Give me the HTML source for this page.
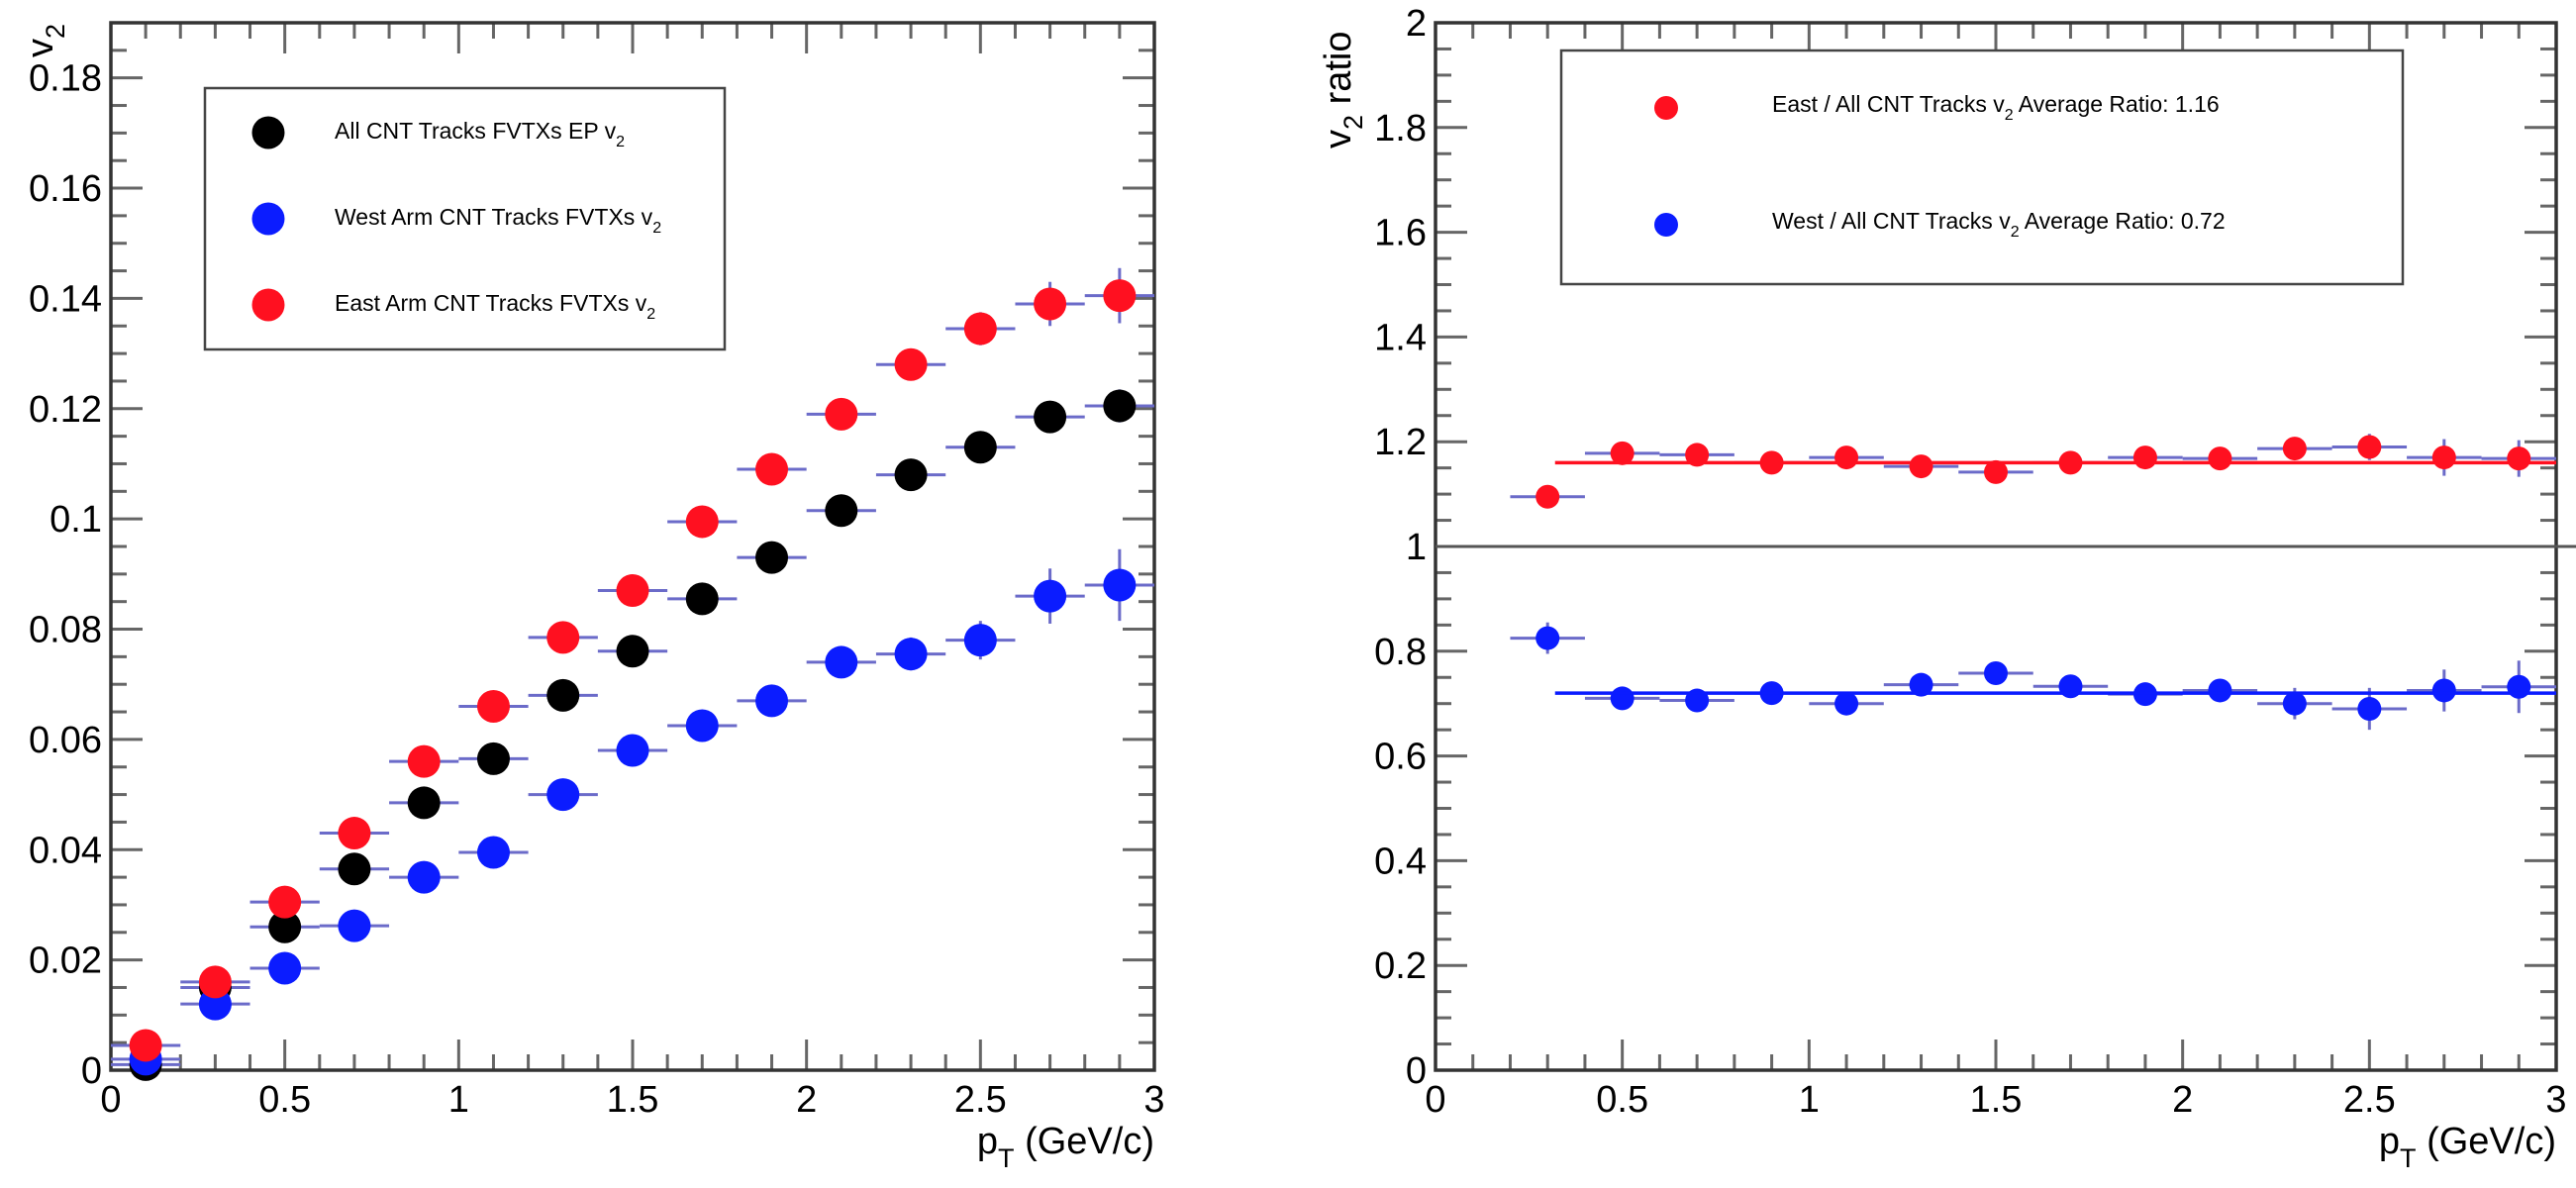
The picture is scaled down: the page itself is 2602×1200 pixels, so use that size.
<!DOCTYPE html>
<html><head><meta charset="utf-8"><style>
html,body{margin:0;padding:0;background:#fff;}
svg{display:block;font-family:"Liberation Sans",Arial,sans-serif;}
</style></head><body>
<svg id="c" width="2602" height="1200" viewBox="0 0 2602 1200" xmlns="http://www.w3.org/2000/svg"></svg>
<script>
// ---- data: left panel ----
const ptBins = [0.1,0.3,0.5,0.7,0.9,1.1,1.3,1.5,1.7,1.9,2.1,2.3,2.5,2.7,2.9];
const allV2 = [0.001,0.015,0.026,0.0365,0.0485,0.0565,0.068,0.076,0.0855,0.093,0.1015,0.108,0.113,0.1185,0.1205];
const allErr = [0.0005,0.0006,0.0007,0.0008,0.0009,0.001,0.0011,0.0012,0.0013,0.0014,0.0016,0.0018,0.002,0.0025,0.003];
const westV2 = [0.002,0.012,0.0185,0.0262,0.035,0.0395,0.050,0.058,0.0625,0.067,0.074,0.0755,0.078,0.086,0.088];
const westErr = [0.001,0.001,0.0012,0.0013,0.0014,0.0015,0.0017,0.0019,0.002,0.0022,0.0025,0.003,0.0035,0.005,0.0065];
const eastV2 = [0.0045,0.016,0.0305,0.043,0.056,0.066,0.0785,0.087,0.0995,0.109,0.119,0.128,0.1345,0.139,0.1405];
const eastErr = [0.001,0.001,0.0011,0.0012,0.0013,0.0014,0.0016,0.0018,0.002,0.0022,0.0024,0.0027,0.003,0.004,0.005];
const leftYTicks = ['0','0.02','0.04','0.06','0.08','0.1','0.12','0.14','0.16','0.18'];
const xTicks = ['0','0.5','1','1.5','2','2.5','3'];
// ---- data: right panel ----
const ratioBins = [0.3,0.5,0.7,0.9,1.1,1.3,1.5,1.7,1.9,2.1,2.3,2.5,2.7,2.9];
const eastRatio = [1.095,1.178,1.175,1.16,1.17,1.153,1.142,1.16,1.17,1.168,1.187,1.19,1.17,1.168];
const eastRatioErr = [0.012,0.012,0.012,0.012,0.012,0.013,0.014,0.015,0.016,0.017,0.02,0.025,0.035,0.035];
const westRatio = [0.825,0.71,0.706,0.72,0.70,0.736,0.758,0.733,0.718,0.725,0.70,0.69,0.725,0.732];
const westRatioErr = [0.03,0.012,0.012,0.012,0.013,0.014,0.015,0.016,0.018,0.02,0.03,0.04,0.04,0.05];
const fitValues = [1.16,0.72];
const fitRange = [0.32,3.0];
const rightYTicks = ['0','0.2','0.4','0.6','0.8','1','1.2','1.4','1.6','1.8','2'];

const NS='http://www.w3.org/2000/svg';
const svg=document.getElementById('c');
function mk(tag,attrs,parent){const e=document.createElementNS(NS,tag);for(const k in attrs)e.setAttribute(k,attrs[k]);(parent||svg).appendChild(e);return e;}

function panel(P){
  const g=mk('g',{});
  
  
  const X=v=>P.x0+(v-0)/(3-0)*(P.x1-P.x0);
  const Y=v=>P.y1-(v-P.ymin)/(P.ymax-P.ymin)*(P.y1-P.y0);
  P.X=X;P.Y=Y;
  for(let i=0;i<=30;i++){const v=i*0.1;const xx=X(v);const L=(i%5==0)?31:16;
    mk('line',{x1:xx,y1:P.y1,x2:xx,y2:P.y1-L,stroke:'#666','stroke-width':3},g);
    mk('line',{x1:xx,y1:P.y0,x2:xx,y2:P.y0+L,stroke:'#666','stroke-width':3},g);}
  const nMin=Math.round((P.ymax-P.ymin)/P.minor);
  for(let i=0;i<=nMin;i++){const v=P.ymin+i*P.minor;const yy=Y(v);const major=Math.abs((v/P.major)-Math.round(v/P.major))<1e-6;const L=major?32:16;
    mk('line',{x1:P.x0,y1:yy,x2:P.x0+L,y2:yy,stroke:'#666','stroke-width':3},g);
    mk('line',{x1:P.x1,y1:yy,x2:P.x1-L,y2:yy,stroke:'#666','stroke-width':3},g);}
  mk('rect',{x:P.x0,y:P.y0,width:P.x1-P.x0,height:P.y1-P.y0,fill:'none',stroke:'#333','stroke-width':3.5},g);
  xTicks.forEach(t=>{const e=mk('text',{x:X(parseFloat(t)),y:P.y1+42,'font-size':38,'text-anchor':'middle',fill:'#000'},g);e.textContent=t;});
  P.yt.forEach(t=>{const e=mk('text',{x:P.x0-9,y:Y(parseFloat(t))+13,'font-size':38,'text-anchor':'end',fill:'#000'},g);e.textContent=t;});
  const xt=mk('text',{x:P.x1,y:1165,'font-size':38,'text-anchor':'end',fill:'#000'},g);
  
  xt.innerHTML='p<tspan font-size="27" dy="14">T</tspan><tspan dy="-14"> (GeV/c)</tspan>';
  return g;
}
function series(P,g,xs,ys,es,color,r,name){
  const s=mk('g',{},g);
  
  
  xs.forEach((x,i)=>{
    mk('line',{x1:P.X(x-0.1),x2:P.X(x+0.1),y1:P.Y(ys[i]),y2:P.Y(ys[i]),stroke:'#6b6bc9','stroke-width':3},s);
    mk('line',{x1:P.X(x),x2:P.X(x),y1:P.Y(ys[i]-es[i]),y2:P.Y(ys[i]+es[i]),stroke:'#6b6bc9','stroke-width':3},s);
    const c=mk('circle',{cx:P.X(x),cy:P.Y(ys[i]),r:r,fill:color},s);
    
    
  });
}
const L={name:'v2-panel',x0:112,x1:1166,y0:23,y1:1081,ymin:0,ymax:0.19,major:0.02,minor:0.005,yt:leftYTicks};
const gL=panel(L);
series(L,gL,ptBins,allV2,allErr,'#000',16.5,'all-cnt-series');
series(L,gL,ptBins,westV2,westErr,'#0b1cff',16.5,'west-arm-series');
series(L,gL,ptBins,eastV2,eastErr,'#ff1020',16.5,'east-arm-series');
const v2t=mk('text',{x:0,y:0,'font-size':38,fill:'#000',transform:'translate(53,58) rotate(-90)'},gL);

v2t.innerHTML='v<tspan font-size="27" dy="12">2</tspan>';
const lg=mk('g',{},gL);
mk('rect',{x:207,y:89,width:525,height:264,fill:'#fff',stroke:'#444','stroke-width':2.5},lg);
[['#000','All CNT Tracks FVTXs EP v',134],['#0b1cff','West Arm CNT Tracks FVTXs v',221],['#ff1020','East Arm CNT Tracks FVTXs v',308]].forEach(d=>{
  const e=mk('g',{},lg);
  mk('circle',{cx:271,cy:d[2],r:16.5,fill:d[0]},e);
  const t=mk('text',{x:338,y:d[2]+6,'font-size':23,fill:'#000'},e);
  t.innerHTML=d[1]+'<tspan font-size="16" dy="8">2</tspan>';
});
const R={name:'ratio-panel',x0:1450,x1:2582,y0:23,y1:1081,ymin:0,ymax:2,major:0.2,minor:0.05,yt:rightYTicks};
const gR=panel(R);
mk('line',{x1:R.x0,x2:2602,y1:R.Y(1),y2:R.Y(1),stroke:'#555','stroke-width':3},gR);
series(R,gR,ratioBins,eastRatio,eastRatioErr,'#ff1020',12,'east-ratio-series');
series(R,gR,ratioBins,westRatio,westRatioErr,'#0b1cff',12,'west-ratio-series');
[['#ff1020',fitValues[0],'east-fit-line'],['#0b1cff',fitValues[1],'west-fit-line']].forEach(d=>{
  const l=mk('line',{x1:R.X(fitRange[0]),x2:R.X(fitRange[1]),y1:R.Y(d[1]),y2:R.Y(d[1]),stroke:d[0],'stroke-width':3.5},gR);
  
});
const rt=mk('text',{x:0,y:0,'font-size':38,fill:'#000',transform:'translate(1364,150) rotate(-90)'},gR);

rt.innerHTML='v<tspan font-size="27" dy="12">2</tspan><tspan dy="-12"> ratio</tspan>';
const rg=mk('g',{},gR);
mk('rect',{x:1577,y:51,width:850,height:236,fill:'#fff',stroke:'#444','stroke-width':2.5},rg);
[['#ff1020','East / All CNT Tracks v',' Average Ratio: 1.16',109],['#0b1cff','West / All CNT Tracks v',' Average Ratio: 0.72',227]].forEach(d=>{
  const e=mk('g',{},rg);
  mk('circle',{cx:1683,cy:d[3],r:12,fill:d[0]},e);
  const t=mk('text',{x:1790,y:d[3]+4,'font-size':23,fill:'#000'},e);
  t.innerHTML=d[1]+'<tspan font-size="16" dy="8">2</tspan><tspan dy="-8">'+d[2]+'</tspan>';
});
</script>
</body></html>
